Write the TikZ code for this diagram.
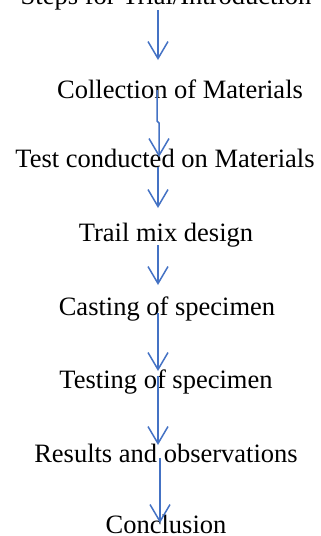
\documentclass[tikz,border=0pt]{standalone}
\usepackage{fontspec}
\setmainfont{Liberation Serif}
\usetikzlibrary{arrows.meta}
\definecolor{arrowblue}{RGB}{68,114,196}
\begin{document}
\begin{tikzpicture}[x=1pt,y=-1pt,
  stagetext/.style={anchor=base,inner sep=0pt,font=\fontsize{26.5}{30}\selectfont},
  flow/.style={draw=arrowblue,line width=1.5pt,-{Straight Barb[length=17pt,width=20pt,line width=1.5pt]}}]
\useasboundingbox (0,0) rectangle (321,536);

\node[stagetext] (intro) at (166,4) {Steps for Trial/Introduction};
\node[stagetext] (collect) at (180,98) {Collection of Materials};
\node[stagetext] (test) at (165,167) {Test conducted on Materials};
\node[stagetext] (trail) at (166,241) {Trail mix design};
\node[stagetext] (casting) at (167,315) {Casting of specimen};
\node[stagetext] (testing) at (166,388) {Testing of specimen};
\node[stagetext] (results) at (166,462) {Results and observations};
\node[stagetext] (concl) at (166,533) {Conclusion};

% arrows (shifted off the text baselines)
\draw[flow] ([shift={(-8,6)}]intro.base) -- ([shift={(-22,-38)}]collect.base);
\draw[flow] ([shift={(-23,-8)}]collect.base) -- ++(0,31) -- ++(2,2) -- ([shift={(-6,-10)}]test.base);
\draw[flow] ([shift={(-7,0)}]test.base) -- ([shift={(-8,-33)}]trail.base);
\draw[flow] ([shift={(-8,4)}]trail.base) -- ([shift={(-9,-30)}]casting.base);
\draw[flow] ([shift={(-9,-2)}]casting.base) -- ([shift={(-8,-17)}]testing.base);
\draw[flow] ([shift={(-8,-12)}]testing.base) -- ([shift={(-8,-17)}]results.base);
\draw[flow] ([shift={(-6,-4)}]results.base) -- ([shift={(-6,-10)}]concl.base);
\end{tikzpicture}
\end{document}
